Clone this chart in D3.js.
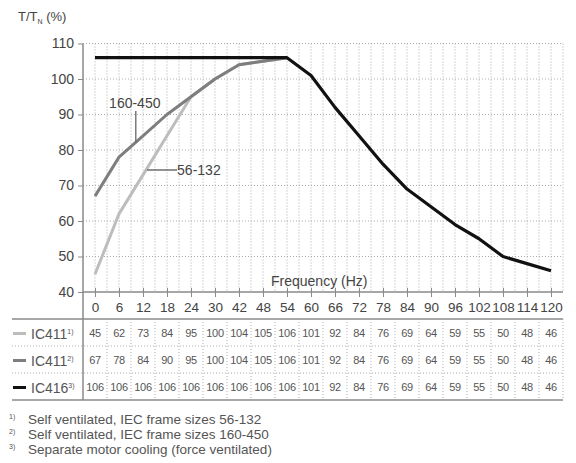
<!DOCTYPE html>
<html>
<head>
<meta charset="utf-8">
<script src="https://cdn.jsdelivr.net/npm/d3@7"></script>
<style>
  body { margin: 0; background: #fff; }
  svg text { font-family: "Liberation Sans", Arial, sans-serif; }
</style>
</head>
<body>
<svg id="chart" width="576" height="463"></svg>
<script>
// frequency labels as printed (note: 36 is skipped in the original)
var freqLabels = ['0', '6', '12', '18', '24', '30', '42', '48', '54', '60', '66', '72', '78', '84', '90', '96', '102', '108', '114', '120'];
var ic411Small = [45, 62, 73, 84, 95, 100, 104, 105, 106, 101, 92, 84, 76, 69, 64, 59, 55, 50, 48, 46];
var ic411Large = [67, 78, 84, 90, 95, 100, 104, 105, 106, 101, 92, 84, 76, 69, 64, 59, 55, 50, 48, 46];
var ic416 = [106, 106, 106, 106, 106, 106, 106, 106, 106, 101, 92, 84, 76, 69, 64, 59, 55, 50, 48, 46];
var yTicks = [40, 50, 60, 70, 80, 90, 100, 110];
var rowNames = ['IC411', 'IC411', 'IC416'];
var rowNotes = ['1)', '2)', '3)'];
var footnotes = [
  'Self ventilated, IEC frame sizes 56-132',
  'Self ventilated, IEC frame sizes 160-450',
  'Separate motor cooling (force ventilated)'
];
// the self ventilated curves are drawn only up to 54 Hz, where they join IC416
var curveEnd = 9;

var svg = d3.select('#chart');
var plotLeft = 83, plotRight = 563, plotTop = 43.5, plotBottom = 292;

var x = d3.scalePoint()
  .domain(freqLabels)
  .range([plotLeft, plotRight])
  .padding(0.5);
var step = x.step();

var y = d3.scaleLinear()
  .domain([40, 110])
  .range([plotBottom, plotTop]);

var gridColor = '#acacac';
var axisColor = '#8a8a8a';
var textColor = '#555';

// vertical dotted grid: each tick and each half step
var grid = svg.append('g');
freqLabels.forEach(function (f) {
  [x(f), x(f) + step / 2].forEach(function (gx) {
    grid.append('line')
      .attr('x1', gx).attr('x2', gx)
      .attr('y1', plotTop).attr('y2', plotBottom)
      .attr('stroke', gridColor)
      .attr('stroke-width', 1)
      .attr('stroke-dasharray', '1,2');
  });
});

// horizontal dotted grid
yTicks.slice(1).forEach(function (v) {
  grid.append('line')
    .attr('x1', plotLeft).attr('x2', plotRight)
    .attr('y1', y(v)).attr('y2', y(v))
    .attr('stroke', gridColor)
    .attr('stroke-width', 1)
    .attr('stroke-dasharray', '1,2');
});

// y axis
var yAxis = svg.append('g')
  .attr('transform', 'translate(' + plotLeft + ',0)')
  .call(d3.axisLeft(y).tickValues(yTicks).tickSize(5).tickPadding(4));
yAxis.select('.domain').remove();
yAxis.selectAll('line').attr('stroke', axisColor);
yAxis.selectAll('text').attr('fill', '#444').style('font-size', '14px');
svg.append('line')
  .attr('x1', plotLeft).attr('x2', plotLeft)
  .attr('y1', plotTop).attr('y2', 400)
  .attr('stroke', axisColor).attr('stroke-width', 1.5);

// x axis
var xAxis = svg.append('g')
  .attr('transform', 'translate(0,' + plotBottom + ')')
  .call(d3.axisBottom(x).tickSize(5).tickPadding(5).tickSizeOuter(0));
xAxis.select('.domain').remove();
xAxis.selectAll('line').attr('stroke', axisColor).attr('y1', -4);
xAxis.selectAll('text').attr('fill', '#444').style('font-size', '13.5px');
svg.append('line')
  .attr('x1', plotLeft).attr('x2', plotRight)
  .attr('y1', plotBottom).attr('y2', plotBottom)
  .attr('stroke', axisColor).attr('stroke-width', 1.5);

// titles
var yTitle = svg.append('text')
  .attr('x', 18).attr('y', 21)
  .attr('fill', '#444')
  .style('font-size', '13px');
yTitle.append('tspan').text('T/T');
yTitle.append('tspan').attr('dy', 3).style('font-size', '7px').text('N');
yTitle.append('tspan').attr('dy', -3).text(' (%)');

svg.append('text')
  .attr('x', 271).attr('y', 286)
  .attr('fill', '#444')
  .style('font-size', '14px')
  .text('Frequency (Hz)');

// curves
var line = d3.line()
  .x(function (d, i) { return x(freqLabels[i]); })
  .y(function (d) { return y(d); });

var series = [
  { values: ic411Small.slice(0, curveEnd), color: '#bdbdbd', width: 3 },
  { values: ic411Large.slice(0, curveEnd), color: '#7e7e7e', width: 3 },
  { values: ic416, color: '#111', width: 3.2 }
];
series.forEach(function (s) {
  svg.append('path')
    .datum(s.values)
    .attr('d', line)
    .attr('fill', 'none')
    .attr('stroke', s.color)
    .attr('stroke-width', s.width)
    .attr('stroke-linejoin', 'round');
});

// curve annotations
var xLarge = x('6') + step * 0.7;
svg.append('line')
  .attr('x1', xLarge).attr('x2', xLarge)
  .attr('y1', 111).attr('y2', y(78 + 0.7 * (84 - 78)))
  .attr('stroke', '#666').attr('stroke-width', 1.3);
svg.append('text')
  .attr('x', xLarge - 1).attr('y', 108)
  .attr('text-anchor', 'middle')
  .attr('fill', '#444')
  .style('font-size', '14px')
  .text('160-450');

var xSmall = x('12') + step * 0.17;
svg.append('line')
  .attr('x1', xSmall).attr('x2', xSmall + 30)
  .attr('y1', 170).attr('y2', 170)
  .attr('stroke', '#555').attr('stroke-width', 1.3);
svg.append('text')
  .attr('x', xSmall + 30).attr('y', 175)
  .attr('fill', '#444')
  .style('font-size', '14px')
  .text('56-132');

// value table
var rowTop = 319, rowH = 27;
var tableRows = [ic411Small, ic411Large, ic416];
var swatch = ['#bdbdbd', '#7e7e7e', '#111'];

svg.append('line')
  .attr('x1', 12).attr('x2', plotRight)
  .attr('y1', rowTop).attr('y2', rowTop)
  .attr('stroke', axisColor).attr('stroke-width', 1.5);
svg.append('line')
  .attr('x1', 12).attr('x2', plotRight)
  .attr('y1', rowTop + 3 * rowH).attr('y2', rowTop + 3 * rowH)
  .attr('stroke', axisColor).attr('stroke-width', 1.5);
[1, 2].forEach(function (r) {
  svg.append('line')
    .attr('x1', 12).attr('x2', plotRight)
    .attr('y1', rowTop + r * rowH).attr('y2', rowTop + r * rowH)
    .attr('stroke', gridColor)
    .attr('stroke-dasharray', '1,2');
});
freqLabels.forEach(function (f) {
  var cx = x(f) + step / 2;
  svg.append('line')
    .attr('x1', cx).attr('x2', cx)
    .attr('y1', rowTop).attr('y2', rowTop + 3 * rowH)
    .attr('stroke', gridColor)
    .attr('stroke-dasharray', '1,2');
});

tableRows.forEach(function (vals, r) {
  var cy = rowTop + r * rowH + rowH / 2;
  svg.append('line')
    .attr('x1', 13).attr('x2', 26)
    .attr('y1', cy + 1).attr('y2', cy + 1)
    .attr('stroke', swatch[r]).attr('stroke-width', 3);
  var lbl = svg.append('text')
    .attr('x', 31).attr('y', cy + 6)
    .attr('fill', '#555')
    .style('font-size', '14px');
  lbl.append('tspan').text(rowNames[r]);
  lbl.append('tspan').attr('dy', -5).style('font-size', '7px').text(rowNotes[r]);

  svg.append('g').selectAll('text')
    .data(vals)
    .enter()
    .append('text')
    .attr('x', function (d, i) { return x(freqLabels[i]); })
    .attr('y', cy + 4)
    .attr('text-anchor', 'middle')
    .attr('fill', textColor)
    .style('font-size', '11px')
    .style('letter-spacing', '-0.3px')
    .text(function (d) { return d; });
});

// footnotes
footnotes.forEach(function (t, i) {
  var fy = 424 + i * 15;
  svg.append('text')
    .attr('x', 9).attr('y', fy - 5)
    .attr('fill', '#555')
    .style('font-size', '7px')
    .text(rowNotes[i]);
  svg.append('text')
    .attr('x', 28).attr('y', fy)
    .attr('fill', '#555')
    .style('font-size', '13.5px')
    .text(t);
});
</script>
</body>
</html>
